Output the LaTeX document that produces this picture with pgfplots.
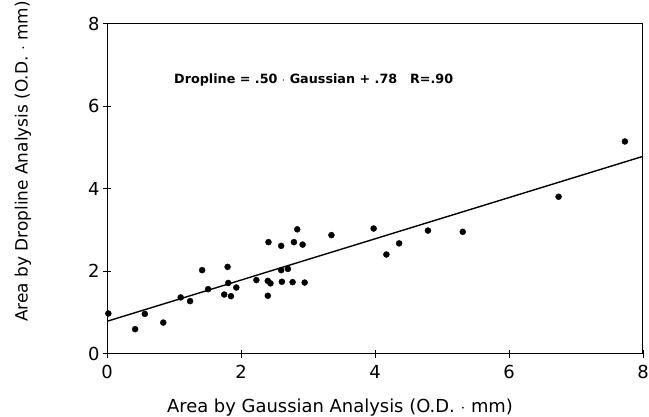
\documentclass[border=0pt]{standalone}
\usepackage{fontspec}
\setmainfont{DejaVu Sans}
\usepackage{pgfplots}
\pgfplotsset{compat=1.18}
\begin{document}
\begin{tikzpicture}
\path[use as bounding box] (-107bp,-63.5bp) rectangle (542bp,353.5bp);
\begin{axis}[
  at={(0,0)}, anchor=south west,
  scale only axis, width=536bp, height=330bp,
  xmin=0, xmax=8, ymin=0, ymax=8,
  xtick={0,2,4,6,8}, ytick={0,2,4,6,8},
  tick align=center, major tick length=8bp,
  xtick pos=bottom, ytick pos=left,
  axis line style={line width=1pt},
  every tick/.style={line width=0.8pt, black},
  /pgf/number format/assume math mode=true,
  tick label style={font=\fontsize{18}{21}\selectfont},
  xticklabel style={yshift=-4bp},
  label style={font=\fontsize{18}{21}\selectfont},
  xlabel={Area by Gaussian Analysis (O.D. $\cdot$ mm)},
  ylabel={Area by Dropline Analysis (O.D. $\cdot$ mm)},
  xlabel style={yshift=-13bp, xshift=-35bp},
  ylabel style={yshift=50bp, xshift=27bp, font=\fontsize{17}{20}\selectfont},
  clip=false,
]
\addplot[only marks, mark=*, mark size=3bp, black] coordinates {
(0.02,0.97) (0.42,0.59) (0.565,0.96) (0.84,0.75) (1.10,1.36) (1.24,1.27)
(1.42,2.02) (1.51,1.56) (1.80,2.10) (1.81,1.71) (1.75,1.43) (1.85,1.39)
(1.93,1.60) (2.23,1.78) (2.41,2.70) (2.40,1.76) (2.44,1.70) (2.40,1.40)
(2.84,3.01) (2.60,2.61) (2.79,2.70) (2.92,2.64) (3.35,2.87) (3.98,3.03)
(4.79,2.98) (4.17,2.40) (4.36,2.67) (2.60,2.02) (2.70,2.05) (2.61,1.74)
(2.77,1.73) (2.95,1.72) (5.31,2.95) (6.74,3.80) (7.73,5.14)
};
\addplot[black, line width=1.4pt] coordinates {(0,0.78) (8,4.78)};
\node[anchor=west, font=\bfseries\fontsize{12.8}{15}\selectfont] at (axis cs:0.95,6.62)
  {Dropline = .50 $\cdot$ Gaussian + .78\quad R=.90};
\end{axis}
\end{tikzpicture}
\end{document}
